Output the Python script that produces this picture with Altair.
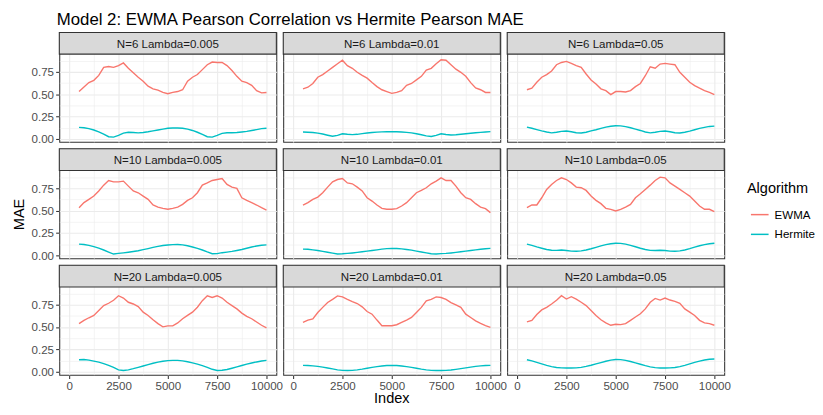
import altair as alt
import pandas as pd

INDEX = list(range(500, 10001, 250))
N_VALUES = [6, 10, 20]
LAMBDAS = ["0.005", "0.01", "0.05"]
ALGORITHMS = ["EWMA", "Hermite"]

EWMA_N6_L0005 = [0.53, 0.58, 0.63, 0.655, 0.71, 0.80, 0.81, 0.80, 0.82, 0.85, 0.79, 0.74, 0.69, 0.645, 0.59, 0.56, 0.545, 0.52, 0.505, 0.52, 0.53, 0.55, 0.645, 0.69, 0.72, 0.775, 0.83, 0.86, 0.855, 0.855, 0.82, 0.765, 0.70, 0.645, 0.63, 0.60, 0.54, 0.515, 0.52]
HERM_N6_L0005 = [0.13, 0.125, 0.115, 0.10, 0.08, 0.055, 0.025, 0.02, 0.04, 0.065, 0.075, 0.072, 0.068, 0.072, 0.08, 0.09, 0.10, 0.11, 0.12, 0.123, 0.123, 0.12, 0.11, 0.095, 0.075, 0.05, 0.025, 0.02, 0.04, 0.062, 0.07, 0.07, 0.072, 0.078, 0.085, 0.095, 0.105, 0.115, 0.12]
EWMA_N6_L001 = [0.56, 0.578, 0.62, 0.69, 0.72, 0.76, 0.80, 0.84, 0.88, 0.82, 0.79, 0.745, 0.71, 0.68, 0.63, 0.585, 0.55, 0.53, 0.51, 0.52, 0.54, 0.60, 0.62, 0.66, 0.70, 0.77, 0.79, 0.84, 0.885, 0.88, 0.83, 0.78, 0.745, 0.70, 0.63, 0.57, 0.55, 0.52, 0.52]
HERM_N6_L001 = [0.078, 0.075, 0.072, 0.065, 0.055, 0.042, 0.03, 0.04, 0.058, 0.052, 0.048, 0.052, 0.06, 0.067, 0.072, 0.076, 0.079, 0.08, 0.081, 0.08, 0.078, 0.074, 0.068, 0.058, 0.047, 0.035, 0.027, 0.04, 0.058, 0.05, 0.045, 0.047, 0.052, 0.058, 0.064, 0.069, 0.074, 0.078, 0.082]
EWMA_N6_L005 = [0.55, 0.567, 0.633, 0.69, 0.72, 0.76, 0.83, 0.855, 0.867, 0.845, 0.82, 0.80, 0.726, 0.66, 0.615, 0.56, 0.54, 0.496, 0.53, 0.53, 0.525, 0.54, 0.585, 0.62, 0.707, 0.807, 0.79, 0.837, 0.845, 0.837, 0.83, 0.745, 0.69, 0.633, 0.596, 0.567, 0.54, 0.52, 0.496]
HERM_N6_L005 = [0.133, 0.12, 0.105, 0.09, 0.078, 0.068, 0.075, 0.085, 0.089, 0.08, 0.07, 0.067, 0.075, 0.09, 0.103, 0.118, 0.132, 0.142, 0.148, 0.146, 0.138, 0.125, 0.11, 0.095, 0.078, 0.068, 0.075, 0.085, 0.089, 0.08, 0.07, 0.067, 0.075, 0.088, 0.103, 0.118, 0.13, 0.14, 0.144]

EWMA_N10_L0005 = [0.533, 0.59, 0.626, 0.663, 0.72, 0.785, 0.837, 0.822, 0.822, 0.83, 0.774, 0.72, 0.70, 0.663, 0.626, 0.563, 0.54, 0.526, 0.515, 0.526, 0.54, 0.57, 0.615, 0.644, 0.70, 0.785, 0.81, 0.837, 0.848, 0.859, 0.793, 0.763, 0.748, 0.644, 0.615, 0.589, 0.563, 0.533, 0.507]
HERM_N10_L0005 = [0.126, 0.122, 0.112, 0.098, 0.08, 0.06, 0.037, 0.015, 0.022, 0.028, 0.035, 0.043, 0.052, 0.064, 0.076, 0.089, 0.1, 0.11, 0.116, 0.12, 0.122, 0.118, 0.108, 0.094, 0.078, 0.06, 0.038, 0.018, 0.02, 0.03, 0.037, 0.045, 0.055, 0.066, 0.08, 0.094, 0.105, 0.113, 0.118]
EWMA_N10_L001 = [0.563, 0.59, 0.626, 0.652, 0.70, 0.763, 0.822, 0.848, 0.859, 0.81, 0.80, 0.763, 0.72, 0.644, 0.607, 0.563, 0.526, 0.515, 0.515, 0.522, 0.552, 0.589, 0.644, 0.70, 0.726, 0.756, 0.80, 0.83, 0.867, 0.837, 0.837, 0.774, 0.70, 0.644, 0.626, 0.578, 0.54, 0.522, 0.478]
HERM_N10_L001 = [0.07, 0.068, 0.062, 0.055, 0.045, 0.035, 0.025, 0.016, 0.018, 0.022, 0.027, 0.033, 0.04, 0.048, 0.055, 0.062, 0.07, 0.075, 0.078, 0.077, 0.072, 0.066, 0.058, 0.048, 0.038, 0.028, 0.018, 0.016, 0.02, 0.022, 0.027, 0.033, 0.04, 0.048, 0.055, 0.062, 0.068, 0.074, 0.078]
EWMA_N10_L005 = [0.533, 0.563, 0.563, 0.644, 0.737, 0.793, 0.837, 0.867, 0.848, 0.81, 0.763, 0.756, 0.726, 0.663, 0.615, 0.578, 0.526, 0.515, 0.496, 0.515, 0.54, 0.57, 0.644, 0.689, 0.737, 0.785, 0.837, 0.874, 0.867, 0.81, 0.774, 0.737, 0.70, 0.663, 0.607, 0.552, 0.515, 0.515, 0.489]
HERM_N10_L005 = [0.126, 0.112, 0.095, 0.08, 0.066, 0.058, 0.056, 0.06, 0.055, 0.048, 0.046, 0.05, 0.06, 0.074, 0.09, 0.106, 0.12, 0.13, 0.136, 0.134, 0.126, 0.112, 0.096, 0.08, 0.066, 0.056, 0.054, 0.058, 0.055, 0.048, 0.046, 0.05, 0.06, 0.075, 0.092, 0.108, 0.12, 0.13, 0.135]

EWMA_N20_L0005 = [0.538, 0.575, 0.604, 0.63, 0.685, 0.74, 0.766, 0.80, 0.85, 0.824, 0.777, 0.758, 0.729, 0.667, 0.63, 0.582, 0.538, 0.502, 0.513, 0.513, 0.546, 0.593, 0.63, 0.667, 0.722, 0.795, 0.85, 0.831, 0.85, 0.824, 0.777, 0.74, 0.703, 0.656, 0.62, 0.593, 0.557, 0.52, 0.49]
HERM_N20_L0005 = [0.135, 0.138, 0.13, 0.12, 0.108, 0.092, 0.072, 0.05, 0.022, 0.015, 0.022, 0.035, 0.05, 0.065, 0.08, 0.095, 0.108, 0.118, 0.125, 0.128, 0.127, 0.122, 0.112, 0.1, 0.085, 0.068, 0.05, 0.028, 0.015, 0.017, 0.026, 0.04, 0.055, 0.07, 0.085, 0.098, 0.11, 0.12, 0.128]
EWMA_N20_L001 = [0.552, 0.578, 0.59, 0.663, 0.72, 0.774, 0.81, 0.848, 0.837, 0.81, 0.785, 0.763, 0.726, 0.674, 0.644, 0.578, 0.515, 0.515, 0.515, 0.526, 0.552, 0.578, 0.607, 0.663, 0.72, 0.793, 0.81, 0.837, 0.83, 0.81, 0.774, 0.748, 0.72, 0.644, 0.607, 0.57, 0.54, 0.515, 0.496]
HERM_N20_L001 = [0.072, 0.07, 0.066, 0.06, 0.052, 0.042, 0.032, 0.022, 0.016, 0.015, 0.016, 0.022, 0.03, 0.04, 0.05, 0.058, 0.065, 0.07, 0.072, 0.07, 0.065, 0.058, 0.05, 0.04, 0.03, 0.022, 0.016, 0.015, 0.015, 0.016, 0.02, 0.027, 0.035, 0.044, 0.052, 0.06, 0.066, 0.07, 0.072]
EWMA_N20_L005 = [0.557, 0.575, 0.64, 0.692, 0.72, 0.758, 0.80, 0.85, 0.813, 0.839, 0.813, 0.777, 0.74, 0.685, 0.63, 0.582, 0.546, 0.52, 0.531, 0.527, 0.538, 0.575, 0.612, 0.648, 0.703, 0.777, 0.82, 0.802, 0.824, 0.802, 0.788, 0.766, 0.703, 0.667, 0.63, 0.575, 0.546, 0.538, 0.52]
HERM_N20_L005 = [0.135, 0.122, 0.105, 0.088, 0.072, 0.058, 0.048, 0.044, 0.043, 0.043, 0.044, 0.05, 0.06, 0.073, 0.088, 0.103, 0.118, 0.13, 0.137, 0.136, 0.128, 0.115, 0.1, 0.084, 0.068, 0.055, 0.046, 0.043, 0.043, 0.044, 0.048, 0.058, 0.072, 0.088, 0.105, 0.12, 0.132, 0.14, 0.143]

SERIES = {
    (6, "0.005"): (EWMA_N6_L0005, HERM_N6_L0005),
    (6, "0.01"): (EWMA_N6_L001, HERM_N6_L001),
    (6, "0.05"): (EWMA_N6_L005, HERM_N6_L005),
    (10, "0.005"): (EWMA_N10_L0005, HERM_N10_L0005),
    (10, "0.01"): (EWMA_N10_L001, HERM_N10_L001),
    (10, "0.05"): (EWMA_N10_L005, HERM_N10_L005),
    (20, "0.005"): (EWMA_N20_L0005, HERM_N20_L0005),
    (20, "0.01"): (EWMA_N20_L001, HERM_N20_L001),
    (20, "0.05"): (EWMA_N20_L005, HERM_N20_L005),
}

rows = []
for (n, lam), pair in SERIES.items():
    for alg, vals in zip(ALGORITHMS, pair):
        for idx, v in zip(INDEX, vals):
            rows.append({"N": n, "Lambda": lam, "Algorithm": alg, "Index": idx,
                         "MAE": v, "strip": f"N={n} Lambda={lam}"})
df = pd.DataFrame(rows)

FONT = "Liberation Sans"
W, H, STRIP = 220, 111, 22

x_major = "datum.value % 2500 === 0"
y_major = "abs(datum.value * 4 - round(datum.value * 4)) < 0.001"

x_axis = alt.Axis(
    values=[0, 1250, 2500, 3750, 5000, 6250, 7500, 8750, 10000],
    format="d", title=None, domain=False,
    labelExpr=f"{x_major} ? datum.label : ''",
    grid=True, gridColor="#EBEBEB",
    gridWidth={"condition": {"test": x_major, "value": 1.1}, "value": 0.55},
    tickOpacity={"condition": {"test": x_major, "value": 1}, "value": 0},
    tickColor="#333333", tickSize=3.7, tickWidth=1.07,
    labelPadding=2.2, labelFontSize=11.7, labelColor="#4D4D4D", labelFont=FONT,
)
y_axis = alt.Axis(
    values=[0, 0.125, 0.25, 0.375, 0.5, 0.625, 0.75, 0.875],
    format=".2f", title=None, domain=False,
    labelExpr=f"{y_major} ? datum.label : ''",
    grid=True, gridColor="#EBEBEB",
    gridWidth={"condition": {"test": y_major, "value": 1.1}, "value": 0.55},
    tickOpacity={"condition": {"test": y_major, "value": 1}, "value": 0},
    tickColor="#333333", tickSize=3.7, tickWidth=1.07,
    labelPadding=2.2, labelFontSize=11.7, labelColor="#4D4D4D", labelFont=FONT,
)

base = alt.Chart(df)

lines = base.mark_line(strokeWidth=1.4).encode(
    x=alt.X("Index:Q", scale=alt.Scale(domain=[-500, 10500], nice=False, zero=False), axis=x_axis),
    y=alt.Y("MAE:Q", scale=alt.Scale(domain=[-0.033, 1.191], nice=False, zero=False), axis=y_axis),
    color=alt.Color(
        "Algorithm:N",
        scale=alt.Scale(domain=ALGORITHMS, range=["#F8766D", "#00BFC4"]),
        legend=alt.Legend(
            title="Algorithm", titleFontSize=14.7, titleFont=FONT, titleColor="#000000",
            titleFontWeight="normal", labelFontSize=11.7, labelFont=FONT, labelColor="#000000",
            symbolType="stroke", symbolSize=320, symbolStrokeWidth=1.5, symbolOffset=3,
            labelOffset=5, rowPadding=3, titlePadding=9,
            orient="none", legendX=697, legendY=151,
        ),
    ),
    detail="Algorithm:N",
)

first = "datum.Index === 500 && datum.Algorithm === 'EWMA'"
strip_rect = base.transform_filter(first).mark_rect(
    fill="#D9D9D9", stroke="#333333", strokeWidth=1.07
).encode(x=alt.value(0), x2=alt.value(W), y=alt.value(0), y2=alt.value(STRIP))
strip_text = base.transform_filter(first).mark_text(
    fontSize=11.7, font=FONT, color="#1A1A1A", baseline="middle", align="center"
).encode(x=alt.value(W / 2), y=alt.value(STRIP / 2 + 0.5), text="strip:N")

# shared axis titles, drawn once (left of the middle-left panel, below the bottom-middle panel)
y_title = base.transform_filter(first + " && datum.N === 10 && datum.Lambda === '0.005'").mark_text(
    text="MAE", angle=270, fontSize=14.7, font=FONT, color="#000000", baseline="middle", align="center"
).encode(x=alt.value(-40), y=alt.value(STRIP + (H - STRIP) / 2))
x_title = base.transform_filter(first + " && datum.N === 20 && datum.Lambda === '0.01'").mark_text(
    text="Index", fontSize=14.7, font=FONT, color="#000000", baseline="middle", align="center"
).encode(x=alt.value(W / 2), y=alt.value(136))

layered = alt.layer(lines, strip_rect, strip_text, y_title, x_title).properties(width=W, height=H)

chart = layered.facet(
    row=alt.Row("N:O", sort=N_VALUES, title=None, header=alt.Header(labels=False, title=None)),
    column=alt.Column("Lambda:N", sort=LAMBDAS, title=None, header=alt.Header(labels=False, title=None)),
    spacing={"row": 7, "column": 7},
    bounds="flush",
).properties(
    title=alt.Title("Model 2: EWMA Pearson Correlation vs Hermite Pearson MAE",
                    anchor="start", fontSize=17, font=FONT, fontWeight="normal",
                    color="#000000", offset=2, dx=46),
    padding={"left": 3, "top": 0, "right": 0, "bottom": 0},
).configure_view(stroke="#333333", strokeWidth=1.07, fill="white")

chart.save("out.html", embed_options={"renderer": "svg", "actions": False})
